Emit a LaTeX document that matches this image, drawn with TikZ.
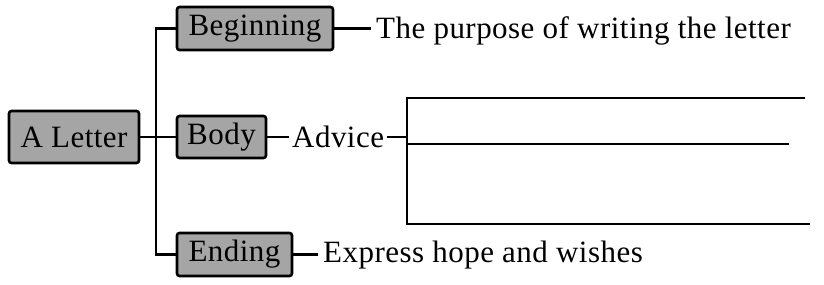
\documentclass[tikz,border=0pt]{standalone}
\usepackage{fontspec}
\setmainfont{Liberation Serif}
\newfontfamily\lblfont{Liberation Serif}[LetterSpace=1.5]
\begin{document}
\begin{tikzpicture}[x=1pt,y=1pt,
  box/.style={draw=black, line width=2.6pt, fill=boxgray, rounded corners=2.5pt,
    inner sep=0pt, font=\lblfont\fontsize{31}{36}\selectfont},
  lbl/.style={inner xsep=5pt, inner ysep=0pt, anchor=base west, font=\lblfont\fontsize{31}{36}\selectfont},
  conn/.style={line width=2.3pt}]
\definecolor{boxgray}{RGB}{165,165,165}
\useasboundingbox (0,0) rectangle (824,284);
\node[box, minimum width=130pt, minimum height=52pt] (letter) at (74,147) {A Letter};
\node[box, minimum width=156pt, minimum height=43pt] (beg) at (255,255.5) {Beginning};
\node[box, minimum width=89pt, minimum height=42pt] (body) at (221.5,147) {Body};
\node[box, minimum width=115pt, minimum height=43pt] (end) at (234.5,29.5) {Ending};
\node[lbl] (purpose) at (371,245) {The purpose of writing the letter};
\node[lbl, inner xsep=3pt] (advice) at (289,136.7) {Advice};
\node[lbl] (express) at (318,21.7) {Express hope and wishes};
\coordinate (tt) at (156,255.5);
\coordinate (tb) at (156,29.5);
\coordinate (tm) at (156,147);
\coordinate (bt) at (407,186);
\coordinate (bb) at (407,60);
\coordinate (ba) at (407,147);
\coordinate (bm) at (407,139.7);
\coordinate (et) at (805,186);
\coordinate (em) at (789,139.7);
\coordinate (eb) at (810,60);
\draw[conn] (letter.east) -- (tm);
\draw[conn] (beg.west) -- (tt) -- (tb) -- (end.west);
\draw[conn] (tm) -- (body.west);
\draw[conn] (beg.east) -- (beg.east -| purpose.west);
\draw[conn] (body.east) -- (body.east -| advice.west);
\draw[conn] (end.east) -- (end.east -| express.west);
\draw[conn] (ba -| advice.east) -- (ba);
\draw[conn] (et) -- (bt) -- (bb) -- (eb);
\draw[conn] (bm) -- (em);
\end{tikzpicture}
\end{document}
